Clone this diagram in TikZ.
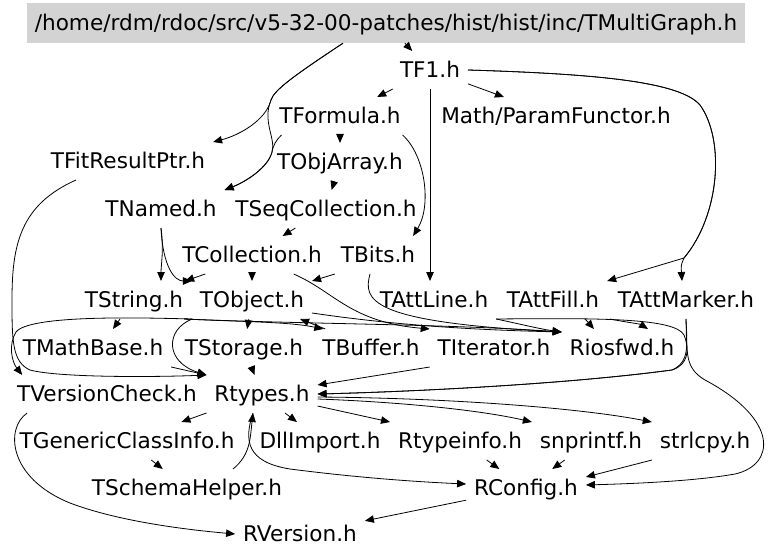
\documentclass[tikz,border=0pt]{standalone}
\usepackage{fontspec}
\setmainfont{DejaVu Sans}
\usetikzlibrary{arrows.meta}
\definecolor{hdrgray}{RGB}{211,211,211}
\begin{document}
\begin{tikzpicture}[x=1pt,y=-1pt,font=\fontsize{21.6}{26}\selectfont,
  hdr/.style={fill=hdrgray,minimum width=718pt,minimum height=40pt,inner sep=0pt,text height=15pt,text depth=0pt},
  file/.style={inner xsep=8pt,inner ysep=0pt,minimum height=38pt,text height=15pt,text depth=0pt,outer sep=0pt},
  dep/.style={-{Triangle[length=9pt,width=7.5pt]},line width=0.8pt}]
\useasboundingbox (0,0) rectangle (768,559);
\node[hdr] (main) at (386,23) {/home/rdm/rdoc/src/v5-32-00-patches/hist/hist/inc/TMultiGraph.h};
\node[file] (tf1) at (430,70) {TF1.h};
\node[file] (tformula) at (340,116) {TFormula.h};
\node[file] (parfunc) at (556,116) {Math/ParamFunctor.h};
\node[file] (fitptr) at (128,161) {TFitResultPtr.h};
\node[file] (objarray) at (340,162) {TObjArray.h};
\node[file] (tnamed) at (161,209) {TNamed.h};
\node[file] (seqcoll) at (326,209) {TSeqCollection.h};
\node[file] (tcoll) at (252,255) {TCollection.h};
\node[file] (tbits) at (378,255) {TBits.h};
\node[file] (tstring) at (134,300) {TString.h};
\node[file] (tobject) at (252,300) {TObject.h};
\node[file] (attline) at (434,300) {TAttLine.h};
\node[file] (attfill) at (553,300) {TAttFill.h};
\node[file] (attmarker) at (686,300) {TAttMarker.h};
\node[file] (mathbase) at (93,348) {TMathBase.h};
\node[file] (storage) at (244,348) {TStorage.h};
\node[file] (tbuffer) at (371,348) {TBuffer.h};
\node[file] (titer) at (494,348) {TIterator.h};
\node[file] (riosfwd) at (622,348) {Riosfwd.h};
\node[file] (vcheck) at (107,394) {TVersionCheck.h};
\node[file] (rtypes) at (262,394) {Rtypes.h};
\node[file] (gclassinfo) at (127,441) {TGenericClassInfo.h};
\node[file] (dllimport) at (320,441) {DllImport.h};
\node[file] (rtypeinfo) at (460,441) {Rtypeinfo.h};
\node[file] (snprintf) at (591,441) {snprintf.h};
\node[file] (strlcpy) at (705,441) {strlcpy.h};
\node[file] (schema) at (187,488) {TSchemaHelper.h};
\node[file] (rconfig) at (526,488) {RConfig.h};
\node[file] (rversion) at (300,534) {RVersion.h};
\draw[dep] (main) -- (tf1);
\draw[dep] ([xshift=-43]main.south) .. controls (295,75) and (274,90) .. (271,100) .. controls (266,120) and (240,135) .. (fitptr.north east);
\draw[dep] ([xshift=-43]main.south) .. controls (295,75) and (274,90) .. (271,100) .. controls (262,122) and (276,138) .. (272,152) .. controls (268,168) and (245,182) .. (tnamed.north east);
\draw[dep] ([xshift=10]tformula.south west) .. controls (276,140) and (273,146) .. (272,152) .. controls (268,168) and (245,182) .. (tnamed.north east);
\draw[dep] (tf1) -- (tformula);
\draw[dep] (tf1) -- (parfunc);
\draw[dep] (tf1.south) -- (tf1.south |- attline.north);
\draw[dep] (tf1.east) .. controls (600,74) and (680,82) .. (700,105) .. controls (725,140) and (720,215) .. (684,258) -- (attfill.north east);
\draw[dep] (tf1.east) .. controls (600,74) and (680,82) .. (700,105) .. controls (725,140) and (720,215) .. (684,258) .. controls (681,265) .. ([xshift=-4]attmarker.north);
\draw[dep] (tformula) -- (objarray);
\draw[dep] ([xshift=-6]tformula.south east) .. controls (425,155) and (432,205) .. ([xshift=-10]tbits.north east);
\draw[dep] (objarray) -- (seqcoll);
\draw[dep] (seqcoll) -- (tcoll);
\draw[dep] (tnamed.south) .. controls (164,250) and (161,265) .. (tnamed.south |- tstring.north);
\draw[dep] (tnamed.south) .. controls (163,268) and (175,281) .. (tobject.north west);
\draw[dep] ([xshift=31]tcoll.south west) -- ([xshift=-6]tstring.north east);
\draw[dep] (tcoll) -- (tobject);
\draw[dep] ([xshift=2]tbits.south west) -- (tobject.north east);
\draw[dep] ([xshift=-36]tcoll.south east) .. controls (335,292) and (350,322) .. (titer.north west);
\draw[dep] ([xshift=-8]tbits.south) .. controls (363,300) and (368,322) .. ([yshift=-3]riosfwd.north west);
\draw[dep] ([yshift=-13]tobject.east) .. controls (400,326) and (480,330) .. ([yshift=-3]riosfwd.north west);
\draw[dep] (attline.south east) .. controls (520,324) and (540,329) .. ([yshift=-3]riosfwd.north west);
\draw[dep] ([xshift=-22]attfill.south east) -- ([xshift=-28]riosfwd.north);
\draw[dep] (attmarker.south west) .. controls (625,322) and (640,324) .. ([xshift=26]riosfwd.north);
\draw[dep] ([xshift=-14]tstring.south) -- ([xshift=20]mathbase.north);
\draw[dep] ([xshift=-7]tstring.south east) .. controls (250,322) and (290,322) .. ([xshift=9]tbuffer.north west);
\draw[dep] ([xshift=11]tbuffer.north west) -- ([xshift=-12]tobject.south east);
\draw[dep] ([xshift=-7]tstring.south east) .. controls (300,324) and (450,324) .. ([yshift=-3]riosfwd.north west);
\draw[dep] (tobject) -- (storage);
\draw[dep] ([xshift=-60]tobject.south) .. controls (150,318) and (30,314) .. (16,332) .. controls (8,345) and (12,362) .. ([xshift=13]vcheck.north west);
\draw[dep] ([xshift=-60]tobject.south) .. controls (165,330) and (165,362) .. (rtypes.north west);
\draw[dep] ([xshift=-52]fitptr.south) .. controls (20,205) and (12,245) .. (12,300) .. controls (12,340) and (12,362) .. (30,370) .. controls (60,378) and (160,377) .. (rtypes.north west);
\draw[dep] (mathbase.south east) -- (rtypes.north west);
\draw[dep] (storage) -- (rtypes);
\draw[dep] (titer.south west) -- ([yshift=9]rtypes.east);
\draw[dep] (attline.south east) .. controls (600,318) and (675,318) .. (684,335) .. controls (690,350) and (688,365) .. (672,370) .. controls (560,385) and (400,392) .. (rtypes.east);
\draw[dep] (attmarker.south) .. controls (687,345) and (690,362) .. (672,370) .. controls (560,385) and (400,392) .. (rtypes.east);
\draw[dep] (attmarker.south) .. controls (687,355) and (685,368) .. (705,380) .. controls (780,420) and (775,465) .. (735,474) .. controls (690,482) and (620,484) .. ([yshift=3]rconfig.east);
\draw[dep] (rtypes.south west) -- ([xshift=-61]gclassinfo.north east);
\draw[dep] ([xshift=23]rtypes.south) -- ([xshift=-23]dllimport.north);
\draw[dep] ([yshift=-12]rtypes.east) -- (rtypeinfo.north west);
\draw[dep] ([yshift=-5]rtypes.east) .. controls (400,402) and (480,410) .. (snprintf.north west);
\draw[dep] ([yshift=-3]rtypes.east) .. controls (450,398) and (580,408) .. (strlcpy.north west);
\draw[dep] ([xshift=-9]rtypes.south) .. controls (244,440) and (246,462) .. (290,469) .. controls (360,478) and (420,482) .. ([yshift=4]rconfig.west);
\draw[dep] ([xshift=46]schema.north) .. controls (250,455) and (250,440) .. ([xshift=-9]rtypes.south);
\draw[dep] (gclassinfo) -- (schema);
\draw[dep] (rtypeinfo) -- (rconfig);
\draw[dep] (snprintf) -- (rconfig);
\draw[dep] ([xshift=-53]strlcpy.south) -- ([yshift=11]rconfig.east);
\draw[dep] (rconfig) -- (rversion);
\draw[dep] ([xshift=18]vcheck.south west) .. controls (5,428) and (8,478) .. (70,503) .. controls (120,522) and (190,530) .. (rversion.west);
\end{tikzpicture}
\end{document}
